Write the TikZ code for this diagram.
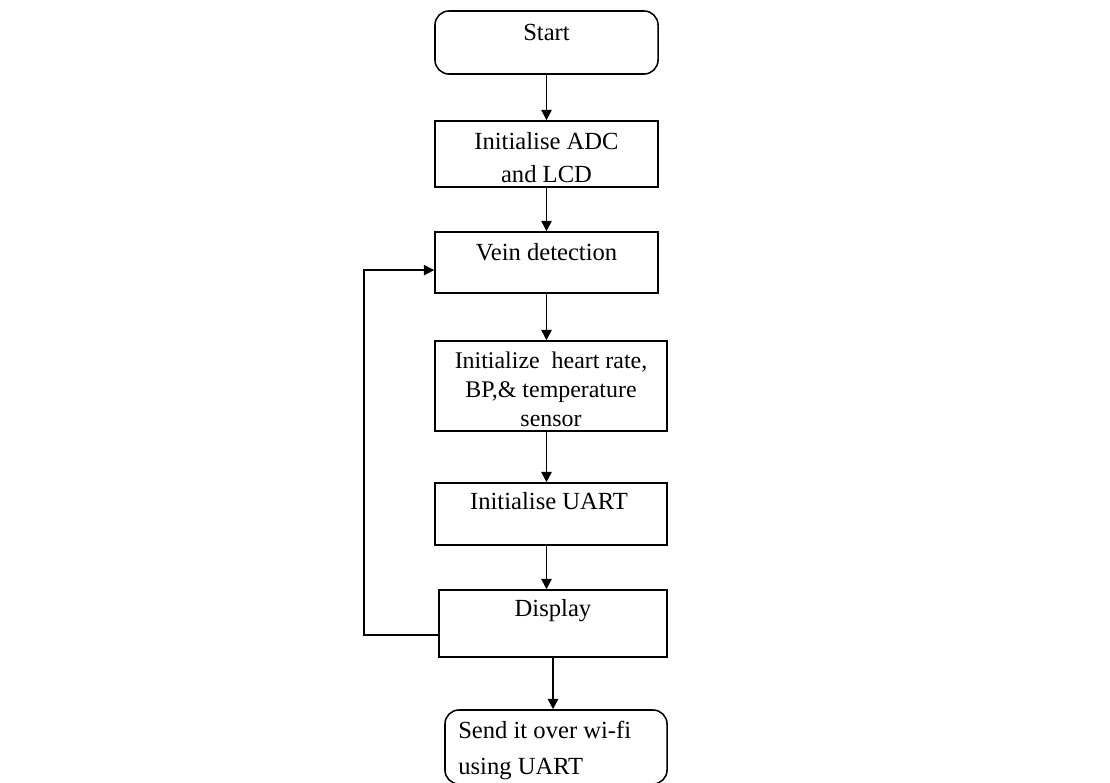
\documentclass[tikz,border=0pt]{standalone}
\usepackage{fontspec}
\setmainfont{Liberation Serif}
\usetikzlibrary{arrows.meta,positioning}

\tikzset{
  stepbox/.style={draw,line width=1.1pt,inner sep=0pt},
  roundbox/.style={stepbox,rounded corners=0.35cm},
  label/.style={font=\fontsize{17.5}{20}\selectfont,inner sep=0pt,align=center},
  arr/.style={-{Triangle[width=0.26cm,length=0.26cm]},line width=1.1pt}
}

\begin{document}
\begin{tikzpicture}[x=0.025cm,y=-0.025cm]
\useasboundingbox (0,0) rectangle (1110,782);
\node[roundbox,minimum width=5.575cm,minimum height=1.575cm] (start) at (546.5,42.5) {};
\node[stepbox,minimum width=5.575cm,minimum height=1.65cm] (adc) at (546.5,154) {};
\node[stepbox,minimum width=5.575cm,minimum height=1.525cm] (vein) at (546.5,262.5) {};
\node[stepbox,minimum width=5.8cm,minimum height=2.25cm] (sensor) at (551,386) {};
\node[stepbox,minimum width=5.8cm,minimum height=1.55cm] (uart) at (551,514) {};
\node[stepbox,minimum width=5.7cm,minimum height=1.675cm] (disp) at (553,623.5) {};
\node[roundbox,minimum width=5.55cm,minimum height=1.85cm] (send) at (556,747) {};
% texts sit near the top of each box
\node[label] (startt) at (546.5,32) {Start};
\node[label,font=\fontsize{17.5}{23.5}\selectfont] (adct) at (546.5,158) {Initialise ADC\\and LCD};
\node[label] (veint) at (546.5,252) {Vein detection};
\node[label,font=\fontsize{17}{20.5}\selectfont] (sensort) at (551,389) {Initialize~ heart rate,\\BP,\& temperature\\sensor};
\node[label] (uartt) at (549,501) {Initialise UART};
\node[label] (dispt) at (553,611) {Display};
\node[label,align=left,anchor=west,font=\fontsize{17.5}{25}\selectfont] (sendt) at (458,750.5) {Send it over wi-fi\\using UART};
\draw[arr] (start) -- (adc);
\draw[arr] (adc) -- (vein);
\draw[arr] (vein) -- (sensor.north -| vein);
\draw[arr] (sensor.south -| vein) -- (uart.north -| vein);
\draw[arr] (uart.south -| vein) -- (disp.north -| vein);
\draw[arr] (disp) -- (send.north -| disp);
\draw[arr] ([yshift=-0.29cm]disp.west) -- ++(-74,0) |- ([yshift=-0.19cm]vein.west);
\end{tikzpicture}
\end{document}
